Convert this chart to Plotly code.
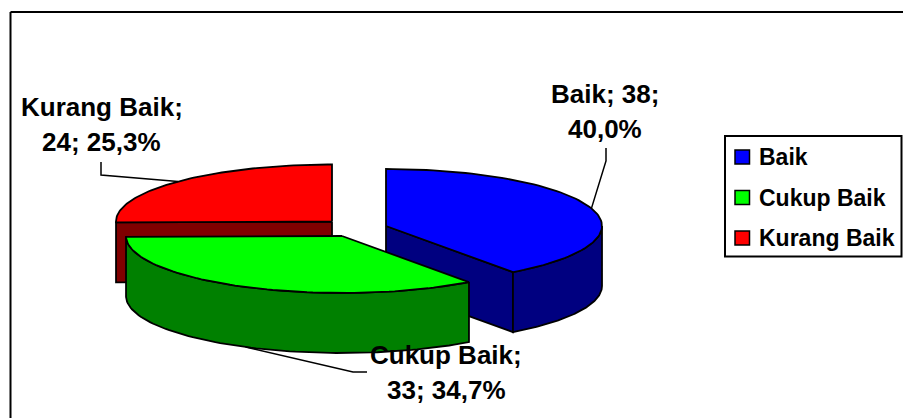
import math
import plotly.graph_objects as go

# Data
categories = ["Baik", "Cukup Baik", "Kurang Baik"]
values = [38, 33, 24]

# Styles
top_colors = ["#0000FF", "#00FF00", "#FF0000"]
side_colors = ["#000080", "#008000", "#800000"]
FONT = "Liberation Sans, Arial, sans-serif"
LABEL_SIZE = 26
LEGEND_SIZE = 23

# Projection of the tilted pie into the canvas (pixel space)
RX, RY, DEPTH = 216, 57, 60
centers = [(386, 226), (342, 236), (332, 221.5)]   # exploded slice centres

total = sum(values)
spans = []
a = 0.0
for v in values:
    spans.append((a, a + 360.0 * v / total))
    a += 360.0 * v / total


def rim(c, t0, t1, dy=0, n=80):
    pts = []
    for i in range(n + 1):
        t = math.radians(t0 + (t1 - t0) * i / n)
        pts.append((c[0] + RX * math.sin(t), c[1] - RY * math.cos(t) + dy))
    return pts


def poly(fig, pts, color):
    fig.add_trace(go.Scatter(
        x=[p[0] for p in pts] + [pts[0][0]],
        y=[p[1] for p in pts] + [pts[0][1]],
        mode="lines", fill="toself", fillcolor=color,
        line=dict(color="black", width=1.8), hoverinfo="skip", showlegend=False))


def line(fig, pts):
    fig.add_trace(go.Scatter(
        x=[p[0] for p in pts], y=[p[1] for p in pts], mode="lines",
        line=dict(color="black", width=1.5), hoverinfo="skip", showlegend=False))


fig = go.Figure()

# Back-to-front: red, blue, green
def radial_face(c, theta, color):
    e = rim(c, theta, theta, n=1)[0]
    poly(fig, [c, e, (e[0], e[1] + DEPTH), (c[0], c[1] + DEPTH)], color)


def outer_side(c, t0, t1, color):
    topedge = rim(c, t0, t1)
    poly(fig, topedge + [(x, y + DEPTH) for x, y in reversed(topedge)], color)


# Kurang Baik
c = centers[2]; t0, t1 = spans[2]
radial_face(c, t0, side_colors[2])
poly(fig, [c] + rim(c, t0, t1), top_colors[2])
# Baik
c = centers[0]; t0, t1 = spans[0]
radial_face(c, t1, side_colors[0])
outer_side(c, 90, t1, side_colors[0])
poly(fig, [c] + rim(c, t0, t1), top_colors[0])
# Cukup Baik
c = centers[1]; t0, t1 = spans[1]
outer_side(c, t0, t1, side_colors[1])
poly(fig, [c] + rim(c, t0, t1), top_colors[1])

# Leader lines, starting on each slice's mid-angle rim point
mid = [(s[0] + s[1]) / 2 for s in spans]
m0 = rim(centers[0], mid[0], mid[0], n=1)[0]
line(fig, [m0, (606, 161), (606, 148)])
m1 = rim(centers[1], mid[1], mid[1], dy=DEPTH, n=1)[0]
line(fig, [m1, (353, 372), (367, 372)])
m2 = rim(centers[2], mid[2], mid[2], n=1)[0]
line(fig, [m2, (101, 175), (101, 162)])

# Data labels
pct = [f"{100 * v / total:.1f}".replace(".", ",") + "%" for v in values]
label_lines = [
    (f"{categories[0]}; {values[0]};", pct[0], 605, 94),
    (f"{categories[1]};", f"{values[1]}; {pct[1]}", 446, 355),
    (f"{categories[2]};", f"{values[2]}; {pct[2]}", 101.5, 107),
]
annotations = []
for l1, l2, x, y in label_lines:
    for txt, yy in ((l1, y), (l2, y + 35)):
        annotations.append(dict(x=x, y=yy, xref="x", yref="y", text=f"<b>{txt}</b>",
                                showarrow=False, xanchor="center", yanchor="middle",
                                font=dict(family=FONT, size=LABEL_SIZE, color="black")))

# Legend
legend_y = [157, 197.5, 238]
shapes = [
    dict(type="line", x0=10.5, x1=903, y0=12, y1=12, xref="x", yref="y", line=dict(color="black", width=2)),
    dict(type="line", x0=10.5, x1=10.5, y0=12, y1=418, xref="x", yref="y", line=dict(color="black", width=2)),
    dict(type="rect", x0=725, x1=901.5, y0=136, y1=256.5, xref="x", yref="y",
         line=dict(color="black", width=2), fillcolor="white"),
]
for name, col, yy in zip(categories, top_colors, legend_y):
    shapes.append(dict(type="rect", x0=735, x1=749.5, y0=yy - 7, y1=yy + 7, xref="x", yref="y",
                       line=dict(color="black", width=1.5), fillcolor=col))
    annotations.append(dict(x=756.5, y=yy, xref="x", yref="y", text=f"<b>{name}</b>", showarrow=False,
                            xanchor="left", yanchor="middle",
                            font=dict(family=FONT, size=LEGEND_SIZE, color="black")))

fig.update_layout(
    width=903, height=418, margin=dict(l=0, r=0, t=0, b=0),
    paper_bgcolor="white", plot_bgcolor="white", showlegend=False,
    xaxis=dict(range=[0, 903], visible=False, fixedrange=True),
    yaxis=dict(range=[418, 0], visible=False, fixedrange=True),
    shapes=shapes, annotations=annotations,
)
fig.write_html("out.html", config=dict(displayModeBar=False),
               post_script="document.body.style.margin='0';")
